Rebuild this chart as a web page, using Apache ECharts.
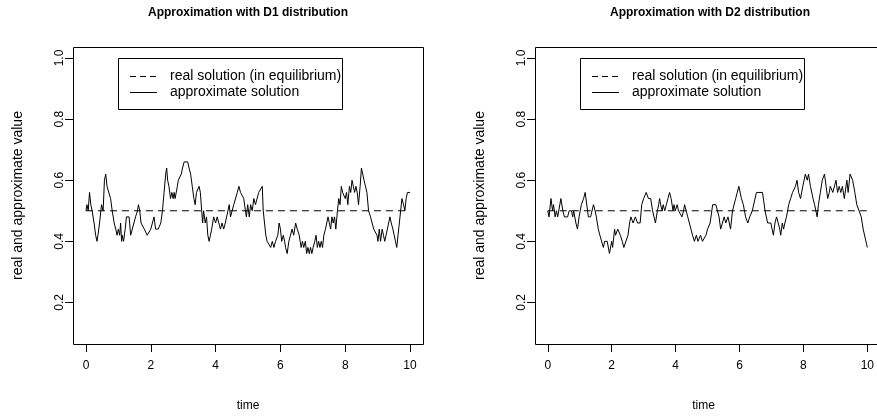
<!DOCTYPE html>
<html><head><meta charset="utf-8">
<script src="https://cdn.jsdelivr.net/npm/echarts@6/dist/echarts.min.js"></script>
<style>html,body{margin:0;padding:0;background:#fff}#c{width:877px;height:417px}</style>
</head><body><div id="c"></div>
<script>
const titles = ['Approximation with D1 distribution', 'Approximation with D2 distribution'];
const legendLabels = ['real solution (in equilibrium)', 'approximate solution'];
const xTicks = [0, 2, 4, 6, 8, 10];
const yTicks = [0.2, 0.4, 0.6, 0.8, 1.0];
const xName = 'time';
const yName = 'real and approximate value';
const equilibrium = 0.5;
const timeRange = [0, 10];

const d1Time = [0.00,0.03,0.07,0.11,0.15,0.19,0.25,0.30,0.34,0.37,0.42,0.46,0.48,0.53,0.57,0.61,0.65,0.71,0.76,0.81,0.87,0.92,0.96,1.00,1.04,1.07,1.10,1.12,1.16,1.21,1.25,1.33,1.38,1.43,1.48,1.53,1.59,1.62,1.66,1.70,1.76,1.80,1.84,1.89,1.95,2.00,2.05,2.10,2.15,2.23,2.31,2.36,2.41,2.46,2.49,2.52,2.56,2.61,2.65,2.69,2.72,2.75,2.82,2.85,2.89,2.94,2.98,3.03,3.14,3.18,3.23,3.28,3.33,3.37,3.41,3.45,3.49,3.53,3.57,3.60,3.63,3.68,3.72,3.76,3.80,3.84,3.88,3.94,4.00,4.05,4.10,4.15,4.20,4.25,4.30,4.34,4.38,4.42,4.46,4.51,4.56,4.61,4.67,4.72,4.77,4.82,4.87,4.92,4.95,4.99,5.04,5.08,5.13,5.18,5.23,5.28,5.33,5.39,5.44,5.47,5.51,5.55,5.59,5.64,5.70,5.75,5.80,5.85,5.92,5.96,6.00,6.04,6.09,6.13,6.16,6.21,6.26,6.31,6.36,6.41,6.47,6.52,6.58,6.61,6.64,6.68,6.72,6.77,6.81,6.85,6.89,6.93,6.97,7.01,7.06,7.10,7.14,7.18,7.22,7.26,7.30,7.34,7.39,7.43,7.47,7.51,7.55,7.59,7.63,7.67,7.71,7.76,7.80,7.84,7.88,7.92,7.96,8.00,8.04,8.08,8.13,8.17,8.21,8.25,8.29,8.33,8.37,8.41,8.46,8.50,8.54,8.58,8.62,8.67,8.72,8.78,8.83,8.88,8.93,8.98,9.01,9.05,9.09,9.14,9.18,9.22,9.26,9.30,9.34,9.38,9.42,9.47,9.51,9.55,9.59,9.63,9.67,9.71,9.75,9.80,9.84,9.88,9.92,10.00];
const d1Value = [0.50,0.52,0.50,0.56,0.52,0.50,0.46,0.42,0.40,0.42,0.46,0.50,0.52,0.50,0.60,0.62,0.58,0.58,0.54,0.50,0.46,0.44,0.42,0.44,0.42,0.46,0.40,0.42,0.40,0.44,0.48,0.48,0.42,0.44,0.44,0.48,0.50,0.52,0.50,0.46,0.46,0.44,0.44,0.42,0.42,0.44,0.46,0.48,0.44,0.44,0.46,0.50,0.56,0.62,0.64,0.60,0.58,0.54,0.56,0.54,0.56,0.54,0.58,0.60,0.60,0.62,0.64,0.66,0.66,0.64,0.62,0.58,0.54,0.52,0.56,0.56,0.58,0.56,0.50,0.46,0.50,0.46,0.48,0.42,0.40,0.42,0.44,0.48,0.46,0.48,0.46,0.44,0.46,0.44,0.46,0.48,0.48,0.52,0.48,0.48,0.52,0.52,0.56,0.58,0.56,0.56,0.54,0.50,0.48,0.52,0.48,0.52,0.50,0.54,0.52,0.52,0.56,0.56,0.58,0.50,0.46,0.42,0.40,0.40,0.38,0.40,0.38,0.40,0.42,0.46,0.44,0.40,0.42,0.40,0.38,0.36,0.40,0.42,0.44,0.42,0.46,0.44,0.42,0.40,0.38,0.40,0.38,0.40,0.36,0.38,0.36,0.38,0.36,0.38,0.40,0.42,0.38,0.40,0.38,0.40,0.38,0.42,0.44,0.46,0.48,0.46,0.44,0.48,0.46,0.48,0.44,0.50,0.54,0.52,0.58,0.56,0.56,0.54,0.56,0.52,0.58,0.56,0.60,0.58,0.56,0.58,0.56,0.52,0.58,0.64,0.62,0.60,0.60,0.56,0.50,0.48,0.46,0.44,0.44,0.42,0.40,0.44,0.40,0.44,0.42,0.40,0.42,0.42,0.46,0.48,0.46,0.44,0.42,0.40,0.38,0.42,0.46,0.50,0.54,0.52,0.50,0.54,0.56,0.56];

const d2Time = [0.00,0.04,0.10,0.15,0.18,0.23,0.27,0.31,0.41,0.47,0.52,0.62,0.67,0.74,0.78,0.81,0.88,0.93,0.98,1.05,1.12,1.17,1.20,1.27,1.34,1.43,1.48,1.52,1.58,1.63,1.69,1.74,1.78,1.86,1.93,2.00,2.03,2.09,2.12,2.19,2.27,2.33,2.38,2.44,2.51,2.56,2.60,2.67,2.74,2.81,2.89,2.94,3.00,3.08,3.15,3.22,3.28,3.37,3.43,3.47,3.50,3.53,3.58,3.61,3.66,3.71,3.76,3.81,3.86,3.92,3.95,3.99,4.05,4.09,4.15,4.20,4.25,4.28,4.33,4.38,4.48,4.53,4.59,4.65,4.70,4.78,4.84,4.90,4.95,5.00,5.08,5.16,5.26,5.31,5.36,5.41,5.52,5.57,5.64,5.72,5.78,5.88,5.93,5.98,6.06,6.12,6.19,6.26,6.32,6.40,6.45,6.53,6.72,6.80,6.88,6.98,7.02,7.06,7.11,7.16,7.21,7.26,7.29,7.34,7.38,7.42,7.47,7.54,7.60,7.66,7.75,7.80,7.85,7.91,7.98,8.06,8.12,8.16,8.22,8.30,8.35,8.43,8.47,8.53,8.59,8.66,8.71,8.76,8.81,8.84,8.92,9.02,9.07,9.12,9.17,9.22,9.28,9.36,9.40,9.46,9.54,9.61,9.67,9.74,9.81,9.87,10.00];
const d2Value = [0.50,0.48,0.54,0.50,0.52,0.48,0.50,0.48,0.54,0.50,0.48,0.48,0.50,0.50,0.48,0.50,0.46,0.44,0.48,0.52,0.54,0.56,0.56,0.48,0.48,0.52,0.50,0.48,0.44,0.42,0.42,0.38,0.40,0.40,0.36,0.40,0.38,0.44,0.42,0.44,0.42,0.40,0.38,0.38,0.42,0.46,0.48,0.46,0.48,0.46,0.46,0.52,0.54,0.56,0.54,0.54,0.50,0.46,0.50,0.52,0.54,0.52,0.50,0.52,0.50,0.52,0.54,0.56,0.54,0.50,0.52,0.50,0.52,0.50,0.50,0.48,0.50,0.52,0.50,0.48,0.44,0.42,0.40,0.42,0.40,0.42,0.40,0.40,0.42,0.44,0.46,0.52,0.52,0.50,0.48,0.44,0.48,0.46,0.48,0.44,0.50,0.54,0.56,0.58,0.54,0.52,0.48,0.46,0.48,0.50,0.50,0.56,0.56,0.50,0.46,0.46,0.44,0.42,0.46,0.48,0.46,0.44,0.42,0.46,0.44,0.46,0.48,0.52,0.54,0.56,0.58,0.60,0.56,0.54,0.58,0.62,0.60,0.62,0.58,0.54,0.52,0.48,0.52,0.56,0.60,0.62,0.58,0.54,0.56,0.58,0.56,0.60,0.56,0.58,0.56,0.58,0.54,0.60,0.56,0.62,0.60,0.56,0.52,0.50,0.48,0.44,0.38];

const FONT = '"Liberation Sans", Arial, Helvetica, sans-serif';
const chart = echarts.init(document.getElementById('c'), null, {renderer: 'canvas'});

const CANVAS_W = 877;
const TOP = 47, HEIGHT = 297, FULL_W = 350;
const X_MIN = -0.4, X_SPAN = 10.8;
const panels = [
  {left: 73, time: d1Time, value: d1Value},
  {left: 535, time: d2Time, value: d2Value}
];

const grid = [], xAxis = [], yAxis = [], series = [], graphic = [];
panels.forEach((p, i) => {
  // visible part of the plot region (the right panel runs off the canvas edge)
  const visW = Math.min(FULL_W, CANVAS_W - p.left);
  const xMax = X_MIN + X_SPAN * visW / FULL_W;
  grid.push({left: p.left, top: TOP, width: visW, height: HEIGHT, show: false, containLabel: false});
  xAxis.push({gridIndex: i, type: 'value', min: X_MIN, max: xMax,
    axisLine: {show: false, onZero: false}, splitLine: {show: false},
    axisTick: {show: true, length: 8, inside: false, customValues: xTicks, lineStyle: {color: '#000', width: 1}},
    axisLabel: {show: true, customValues: xTicks, color: '#000', fontSize: 12, fontFamily: FONT, margin: 16},
    name: xName, nameLocation: 'middle', nameGap: 56,
    nameTextStyle: {color: '#000', fontSize: 12, fontFamily: FONT}});
  yAxis.push({gridIndex: i, type: 'value', min: 0.064, max: 1.036,
    axisLine: {show: false, onZero: false}, splitLine: {show: false},
    axisTick: {show: true, length: 8, inside: false, customValues: yTicks, lineStyle: {color: '#000', width: 1}},
    axisLabel: {show: true, customValues: yTicks, color: '#000', fontSize: 12, fontFamily: FONT, margin: 7, rotate: 90,
      formatter: v => v.toFixed(1)},
    name: yName, nameLocation: 'middle', nameGap: 48,
    nameTextStyle: {color: '#000', fontSize: 14, fontFamily: FONT}});
  series.push({type: 'line', xAxisIndex: i, yAxisIndex: i, showSymbol: false, silent: true,
    data: timeRange.map(t => [t, equilibrium]),
    lineStyle: {color: '#000', width: 1, type: [7, 5]}});
  series.push({type: 'line', xAxisIndex: i, yAxisIndex: i, showSymbol: false, silent: true,
    data: p.time.map((t, k) => [t, p.value[k]]),
    lineStyle: {color: '#000', width: 1}});

  // plot box
  const L = p.left + 0.5, R = p.left + FULL_W + 0.5, T = TOP + 0.5, B = TOP + HEIGHT + 0.5;
  graphic.push({type: 'polyline', shape: {points: [[L, T], [R, T], [R, B], [L, B], [L, T]]},
    style: {fill: 'none', stroke: '#000', lineWidth: 1}});

  const cx = p.left + FULL_W / 2;
  graphic.push({type: 'text', x: cx, y: 13, style: {text: titles[i], font: 'bold 12px ' + FONT,
    fill: '#000', textAlign: 'center', textVerticalAlign: 'middle'}});
  const lx = p.left + 45;
  graphic.push({type: 'rect', shape: {x: lx + 0.5, y: 58.5, width: 224, height: 51},
    style: {fill: 'none', stroke: '#000', lineWidth: 1}});
  graphic.push({type: 'line', shape: {x1: lx + 12, y1: 76.5, x2: lx + 39, y2: 76.5},
    style: {stroke: '#000', lineWidth: 1, lineDash: [6, 4]}});
  graphic.push({type: 'line', shape: {x1: lx + 12, y1: 92.5, x2: lx + 39, y2: 92.5},
    style: {stroke: '#000', lineWidth: 1}});
  graphic.push({type: 'text', x: lx + 52, y: 76, style: {text: legendLabels[0], font: '14px ' + FONT,
    fill: '#000', textAlign: 'left', textVerticalAlign: 'middle'}});
  graphic.push({type: 'text', x: lx + 52, y: 92, style: {text: legendLabels[1], font: '14px ' + FONT,
    fill: '#000', textAlign: 'left', textVerticalAlign: 'middle'}});
});

chart.setOption({
  animation: false,
  backgroundColor: '#fff',
  grid, xAxis, yAxis, series, graphic
});
</script>
</body></html>
